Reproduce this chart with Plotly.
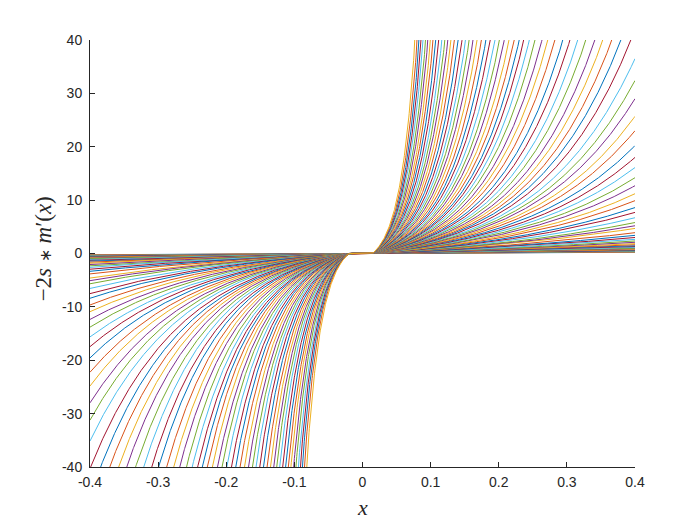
import numpy as np
import plotly.graph_objects as go

# x position where each steep curve leaves the top of the frame (y = 40)
top_cross_x = [0.0771, 0.0804, 0.0834, 0.0863, 0.0892, 0.0928, 0.0961, 0.1001, 0.1039, 0.1079,
               0.1123, 0.1167, 0.1211, 0.1255, 0.1303, 0.1353, 0.1406, 0.1461, 0.1515, 0.1568,
               0.1626, 0.1685, 0.1750, 0.1813, 0.1876, 0.1945, 0.2014, 0.2081, 0.2155, 0.2228,
               0.2302, 0.2370, 0.2450, 0.2535, 0.2635, 0.2723, 0.2826, 0.2943, 0.3046, 0.3163,
               0.3281, 0.3413, 0.3530, 0.3662, 0.3795, 0.3941]
# value at x = 0.4 of the curves that stay inside the frame
edge_y = [36.5, 32.4, 29.0, 25.7, 23.0, 20.2, 18.0, 16.1, 14.2, 12.7, 11.2, 9.9, 8.6, 7.7,
          6.7, 5.8, 5.2, 4.7, 3.9, 3.4, 3.0, 2.65, 2.35, 2.1, 1.85, 1.65, 1.45, 1.3, 1.15,
          1.0, 0.9, 0.8, 0.7, 0.62, 0.55, 0.48, 0.42, 0.37, 0.32, 0.28, 0.24]

x_ticks = [-0.4, -0.3, -0.2, -0.1, 0, 0.1, 0.2, 0.3, 0.4]
x_ticktext = ["-0.4", "-0.3", "-0.2", "-0.1", "0", "0.1", "0.2", "0.3", "0.4"]
y_ticks = [-40, -30, -20, -10, 0, 10, 20, 30, 40]
y_ticktext = ["-40", "-30", "-20", "-10", "0", "10", "20", "30", "40"]

# matlab default line colours
colors = ["#0072BD", "#D95319", "#EDB120", "#7E2F8E", "#77AC30", "#4DBEEE", "#A2142F"]
AXIS = "#262626"

# shape of each curve: flat near the origin, then exponential growth (odd about xc)
c, xc, x0 = 2.5, -0.0025, 0.0175
x = np.linspace(-0.4, 0.4, 1601)
u = np.clip(np.abs(x - xc) - x0, 0, None)
u_edge = 0.4 - xc - x0

rates = [np.log1p(v / c) / u_edge for v in sorted(edge_y)]
rates += [np.log1p(40 / c) / (xt - xc - x0) for xt in sorted(top_cross_x, reverse=True)]

fig = go.Figure()
for i, b in enumerate(rates):
    y = np.sign(x - xc) * c * np.expm1(b * u)
    fig.add_trace(go.Scatter(x=x, y=y, mode="lines", line=dict(color=colors[i % 7], width=1),
                             hoverinfo="skip", showlegend=False))

axis_common = dict(showline=True, linecolor=AXIS, linewidth=1, mirror=False, ticks="inside",
                   ticklen=5, tickcolor=AXIS, showgrid=False, zeroline=False,
                   tickfont=dict(family="Liberation Sans, Arial", size=14, color=AXIS))
# the page body adds an 8px offset, so the margins are shifted to keep the frame in place
fig.update_layout(
    width=700, height=525, margin=dict(l=82, r=73, t=32, b=66),
    paper_bgcolor="white", plot_bgcolor="white",
    xaxis=dict(range=[-0.4, 0.4], tickvals=x_ticks, ticktext=x_ticktext,
               ticklabelstandoff=2, **axis_common),
    yaxis=dict(range=[-40, 40], tickvals=y_ticks, ticktext=y_ticktext,
               ticklabelstandoff=4, **axis_common),
)
fig.add_annotation(text="−2<i>s</i> <span style='font-size:16px'>∗</span> <i>m</i>′(<i>x</i>)",
                   xref="paper", yref="paper", x=-0.086, y=0.51, textangle=-90,
                   xanchor="center", yanchor="middle", showarrow=False,
                   font=dict(family="Liberation Serif", size=23, color=AXIS))
fig.add_annotation(text="<i>x</i>", xref="paper", yref="paper", x=0.5, y=-0.096,
                   xanchor="center", yanchor="middle", showarrow=False,
                   font=dict(family="Liberation Serif", size=22, color=AXIS))
fig.write_html("out.html")
